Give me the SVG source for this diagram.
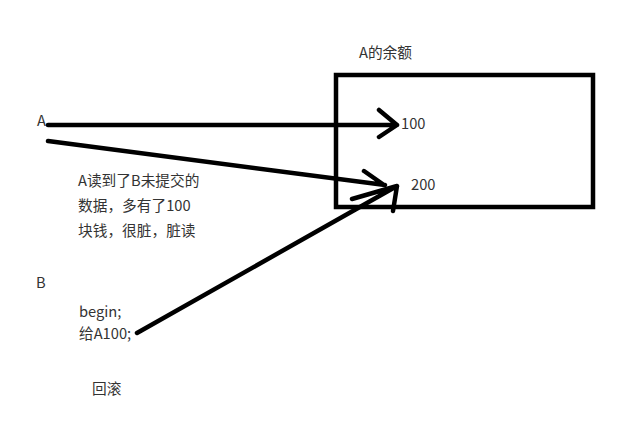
<svg xmlns="http://www.w3.org/2000/svg" width="638" height="429" viewBox="0 0 638 429">
<style>
text{font-family:"Noto Sans CJK SC","Liberation Sans",sans-serif;font-size:14.7px;fill:#333}
.ln{stroke:#000;stroke-width:4.5;fill:none;stroke-linecap:round;stroke-linejoin:round}
</style>
<rect width="638" height="429" fill="#fff"/>
<g id="balance">
<rect x="336" y="75" width="257" height="132" fill="none" stroke="#000" stroke-width="4.5"/>
<text x="359" y="58">A的余额</text>
<text x="401" y="129">100</text>
<text x="411" y="190">200</text>
</g>
<g id="A"><text x="37" y="126">A</text></g>
<g id="note">
<text x="78" y="186">A读到了B未提交的</text>
<text x="78" y="211">数据，多有了100</text>
<text x="78" y="236">块钱，很脏，脏读</text>
</g>
<g id="B">
<text x="36" y="288">B</text>
<text x="79" y="317">begin;</text>
<text x="79" y="339">给A100;</text>
<text x="92" y="394">回滚</text>
</g>
<g id="connectors">
<path class="ln" d="M48 125 L397 125 M379 110 L397 125 L379 137"/>
<path class="ln" d="M48 141 L385 185 M364 171 L384 185"/>
<path class="ln" d="M137 333 L397 186 M352 199 L397 186 L393 211"/>
</g>
</svg>
